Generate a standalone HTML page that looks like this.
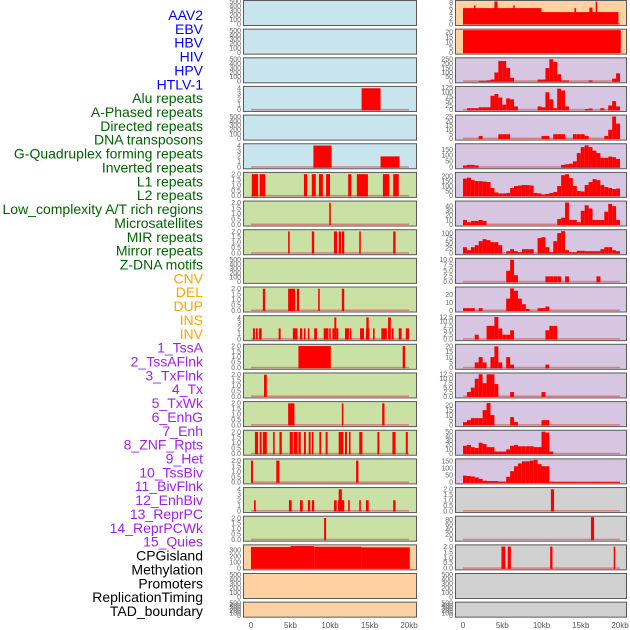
<!DOCTYPE html>
<html><head><meta charset="utf-8">
<style>
html,body{margin:0;padding:0;background:#fff;}
#wrap{position:relative;width:630px;height:630px;overflow:hidden;}
svg text{font-family:"Liberation Sans",sans-serif;}
</style></head>
<body>
<div id="wrap">
<svg id="chart" width="630" height="630" viewBox="0 0 630 630" xmlns="http://www.w3.org/2000/svg"></svg>
</div>
<script>
// ---- labels ----
const trackLabels = ["AAV2","EBV","HBV","HIV","HPV","HTLV-1","Alu repeats","A-Phased repeats","Directed repeats","DNA transposons","G-Quadruplex forming repeats","Inverted repeats","L1 repeats","L2 repeats","Low_complexity A/T rich regions","Microsatellites","MIR repeats","Mirror repeats","Z-DNA motifs","CNV","DEL","DUP","INS","INV","1_TssA","2_TssAFlnk","3_TxFlnk","4_Tx","5_TxWk","6_EnhG","7_Enh","8_ZNF_Rpts","9_Het","10_TssBiv","11_BivFlnk","12_EnhBiv","13_ReprPC","14_ReprPCWk","15_Quies","CPGisland","Methylation","Promoters","ReplicationTiming","TAD_boundary"];
const labelGroups = [6,13,5,15,5];
const groupColors = ["#0000ff","#006400","#ffa500","#a020f0","#000000"];

// ---- x axis ----
const xTickKb = [0,5,10,15,20];
const xTickLabels = ["0","5kb","10kb","15kb","20kb"];

// ---- tick label sets ----
const T500 = ["0","100","200","300","400","500"];
const T4 = ["0","1","2","3","4"];
const T2 = ["0.0","0.5","1.0","1.5","2.0"];
const T300 = ["0","100","200","300"];

// ---- left column segments [startKb, endKb, value] ----
const L4 = [[14.0,16.4,4]];
const L6 = [[7.9,10.2,4],[16.4,18.8,2]];
const L7 = [[0.1,0.9,2],[1.1,1.8,2],[6.7,7.1,2],[7.7,8.2,2],[8.6,9.1,2],[9.5,10.0,2],[12.3,12.7,2],[13.4,14.8,2],[16.7,17.5,2],[18.0,18.7,2]];
const L8 = [[9.9,10.1,2]];
const L9 = [[4.7,4.9,2],[7.7,8.0,2],[10.5,10.9,2],[11.1,11.4,2],[11.5,11.8,2],[13.7,13.9,2],[18.0,18.3,2]];
const L11 = [[1.5,1.8,2],[4.7,5.6,2],[5.8,6.1,2],[8.5,8.7,2],[11.5,11.8,2]];
const L12 = [[0.25,0.5,2],[0.63,0.85,2],[1.0,1.35,2],[3.5,3.75,2],[5.3,5.9,2],[6.2,6.5,2],[6.7,6.9,2],[7.2,7.4,2],[8.0,8.35,2],[9.2,9.8,2],[9.9,10.1,2],[10.3,10.55,2],[10.55,10.8,4],[10.8,11.05,2],[11.9,12.4,2],[12.5,12.7,2],[13.8,14.3,2],[14.55,15.0,2],[14.6,14.9,4],[15.45,15.65,2],[16.5,17.2,2],[17.35,17.7,4],[17.8,18.05,2],[18.7,19.07,2],[19.6,20.0,2]];
const L13 = [[6.0,10.1,2],[19.2,19.5,2]];
const L14 = [[1.65,2.0,2]];
const L15 = [[4.7,5.5,2],[11.5,11.7,2],[16.6,16.9,2]];
const L16 = [[0.5,0.9,2],[1.1,1.35,2],[1.5,2.0,2],[2.8,3.0,2],[3.6,3.9,2],[4.9,5.3,2],[5.4,5.9,2],[6.0,6.3,2],[6.7,6.95,2],[7.3,7.55,2],[7.7,7.9,2],[8.65,8.9,2],[9.45,9.7,2],[11.1,11.7,2],[11.9,12.15,2],[12.4,12.6,2],[13.7,14.1,2],[16.0,16.25,2],[17.9,18.3,2],[19.6,19.85,2]];
const L17 = [[0,0.25,2],[3.2,3.6,2],[13.3,13.6,2]];
const L18 = [[0.38,0.6,2],[4.8,5.15,2],[6.2,6.55,2],[7.2,7.5,2],[7.7,8.0,2],[10.5,10.85,2],[11.0,11.8,2],[11.1,11.5,4],[12.3,12.5,2],[13.7,13.9,2],[14.55,14.9,2],[18.0,18.3,2]];
const L19 = [[9.25,9.5,2]];
const L20 = [[0,5,355],[5,8,372],[8,14,360],[14,20.1,350]];

// ---- right column segments / 0.5kb bins ----
const R1 = [[0,10,6],[10,19.8,4.5],[1.4,1.6,7],[4.0,4.4,8.5],[6.4,6.6,7],[14.2,14.4,6],[16.1,16.5,6.2],[16.9,17.1,8.5]];
const R2 = [[0,20.1,22]];
const R3 = [0,0,0,0,5,5,10,20,100,230, 230,150,40,0,0,0,0,0,0,20, 20,150,250,220,80,10,10,0,0,0, 0,0,10,0,0,0,0,0,30,90];
const R4 = [0,10,10,10,15,15,15,80,90,70, 30,65,60,20,0,0,0,0,0,20, 15,100,60,10,120,110,20,0,0,0, 0,5,8,0,0,10,0,25,50,20];
const R5 = [0,0,0,0,3,0,0,0,0,5, 5,5,0,0,0,0,0,0,0,0, 3,3,0,5,5,5,0,0,5,5, 5,3,0,0,0,0,3,10,25,17];
const R6 = [15,20,20,15,0,0,0,0,0,0, 0,0,0,0,0,0,0,0,0,0, 0,0,0,0,0,20,25,30,50,120, 170,185,170,140,120,80,80,90,85,70];
const R7 = [175,185,160,150,150,145,140,80,35,25, 25,30,80,100,105,110,110,105,30,25, 15,20,30,40,100,210,220,180,100,50, 45,110,140,170,160,110,90,80,70,75];
const R8 = [10,5,8,8,10,8,0,0,0,0, 0,0,0,0,0,0,0,0,0,0, 0,0,0,0,12,15,48,10,10,5, 30,42,35,10,10,10,28,45,40,10];
const R9 = [30,15,30,40,60,70,65,55,55,40, 0,10,20,10,5,20,20,20,0,75, 80,30,5,60,100,110,15,5,5,12, 12,10,10,10,10,20,30,30,15,10];
const R10 = [0,0,0,0,0,0,0,0,0,0, 0,5,10,3,0,0,0,0,0,0, 0,2.5,2.5,2.5,2.5,0,2.5,0,0,0, 0,0,0,0,2.5,0,0,0,0,0];
const R11 = [3,3,3,0,3,0,0,0,0,0, 0,15,28,25,15,8,2,0,0,3, 3,5,0,0,0,0,0,0,0,0, 0,0,0,0,0,0,0,0,0,0];
const R12 = [0,0,0,2.5,0,0,7.5,7.5,12.5,6, 2.5,2.5,5,0,0,0,0,0,0,0, 0,5,7.5,7.5,0,0,0,0,0,0, 0,0,0,0,0,0,0,0,0,0];
const R13 = [0,0,0,5,10,5,0,10,20,5, 0,10,3,0,0,0,0,0,0,0, 0,3,0,0,0,0,0,0,0,0, 0,0,0,0,0,0,0,0,0,0];
const R14 = [0,2.5,5,10,12.5,7.5,12.5,12.5,7,0, 0,0,2.5,0,0,0,0,0,0,0, 2.5,0,0,0,0,0,0,0,0,0, 0,0,0,0,0,0,0,0,0,0];
const R15 = [3,5,7,7,7,15,22,10,0,0, 0,0,8,3,0,0,0,0,0,0, 5,5,0,0,0,0,0,0,0,0, 0,0,0,0,0,0,0,0,0,0];
const R16 = [18,20,15,13,25,22,15,15,5,5, 5,10,18,20,17,17,17,17,15,15, 50,48,5,0,0,0,0,0,0,0, 0,0,0,0,0,0,0,0,0,0];
const R17 = [48,45,42,35,25,12,10,10,10,5, 5,40,80,115,135,150,150,155,160,130, 115,115,5,3,3,3,3,3,3,3, 3,3,3,3,3,3,3,3,3,3];
const R18 = [[11.2,11.6,2]];
const R19 = [[16.3,16.7,90]];
const R20 = [[4.9,5.4,2],[5.7,6.1,2],[11.1,11.4,2],[19.2,19.4,2]];

// ---- panel configs ----
const C = {blue:"#c8e4ec",green:"#c9e1a5",orange:"#ffd0a0",purple:"#d6c6e2",gray:"#d1d1d1"};
const leftPanels = [
 {bg:C.blue,t:T500,max:510,segs:null},{bg:C.blue,t:T500,max:510,segs:null},{bg:C.blue,t:T500,max:510,segs:null},
 {bg:C.blue,t:T4,max:4.15,segs:L4},{bg:C.blue,t:T500,max:510,segs:null},{bg:C.blue,t:T4,max:4.15,segs:L6},
 {bg:C.green,t:T2,max:2.07,segs:L7},{bg:C.green,t:T2,max:2.07,segs:L8},{bg:C.green,t:T2,max:2.07,segs:L9},
 {bg:C.green,t:T500,max:510,segs:null},{bg:C.green,t:T2,max:2.07,segs:L11},{bg:C.green,t:T4,max:4.15,segs:L12},
 {bg:C.green,t:T2,max:2.07,segs:L13},{bg:C.green,t:T2,max:2.07,segs:L14},{bg:C.green,t:T2,max:2.07,segs:L15},
 {bg:C.green,t:T2,max:2.07,segs:L16},{bg:C.green,t:T2,max:2.07,segs:L17},{bg:C.green,t:T4,max:4.15,segs:L18},
 {bg:C.green,t:T2,max:2.07,segs:L19},{bg:C.orange,t:T300,max:375,segs:L20},{bg:C.orange,t:T500,max:510,segs:null},
 {bg:C.orange,t:T500,max:510,segs:null}
];
const rightPanels = [
 {bg:C.orange,t:["0","2","4","6","8"],max:8.5,segs:R1},
 {bg:C.orange,t:["0","5","10","15","20"],max:22,segs:R2},
 {bg:C.purple,t:["0","50","100","150","200","250"],max:255,bins:R3},
 {bg:C.purple,t:["0","25","50","75","100","125"],max:127,bins:R4},
 {bg:C.purple,t:["0","5","10","15","20","25"],max:25.5,bins:R5},
 {bg:C.purple,t:["0","50","100","150"],max:190,bins:R6},
 {bg:C.purple,t:["0","50","100","150","200"],max:228,bins:R7},
 {bg:C.purple,t:["0","10","20","30","40"],max:49,bins:R8},
 {bg:C.purple,t:["0","25","50","75","100"],max:112,bins:R9},
 {bg:C.purple,t:["0.0","2.5","5.0","7.5","10.0"],max:10.2,bins:R10},
 {bg:C.purple,t:["0","10","20"],max:28.5,bins:R11},
 {bg:C.purple,t:["0.0","2.5","5.0","7.5","10.0","12.5"],max:12.7,bins:R12},
 {bg:C.purple,t:["0","5","10","15","20"],max:21,bins:R13},
 {bg:C.purple,t:["0.0","2.5","5.0","7.5","10.0","12.5"],max:12.7,bins:R14},
 {bg:C.purple,t:["0","5","10","15","20"],max:22.5,bins:R15},
 {bg:C.purple,t:["0","10","20","30","40","50"],max:51,bins:R16},
 {bg:C.purple,t:["0","50","100","150"],max:160,bins:R17},
 {bg:C.gray,t:T2,max:2.07,segs:R18},
 {bg:C.gray,t:["0","20","40","60","80"],max:90,segs:R19},
 {bg:C.gray,t:T2,max:2.07,segs:R20},
 {bg:C.gray,t:T500,max:510,segs:null},
 {bg:C.gray,t:T500,max:510,segs:null}
];

const svg = document.getElementById('chart');
const NS = "http://www.w3.org/2000/svg";
function mk(tag, attrs){const e=document.createElementNS(NS,tag);for(const k in attrs)e.setAttribute(k,attrs[k]);svg.appendChild(e);return e;}

const PITCH = 28.65, PH = 25;
const cols = [
 {x0:243, x1:416, kb0:251, pxPerKb:7.9, panels:leftPanels, side:'left'},
 {x0:455, x1:626, kb0:463, pxPerKb:7.85, panels:rightPanels, side:'right'}
];

// labels
let li = 0;
labelGroups.forEach((n, g) => {
  for (let k = 0; k < n; k++) {
    const t = mk('text', {x:203, y:(15 + li*13.86 + 5).toFixed(1), 'text-anchor':'end', 'font-size':'14', fill:groupColors[g]});
    t.textContent = trackLabels[li];
    
    
    li++;
  }
});

cols.forEach(col => {
  const xs = kb => col.kb0 + kb*col.pxPerKb;
  col.panels.forEach((p, r) => {
    const top = r*PITCH + 0.5;
    const h = (r === 21) ? 15 : PH;
    const bottom = top + h;
    const ys = v => bottom - 1.5 - v/p.max*(h-2.5);
    const bg = mk('rect', {x:col.x0+0.5, y:top, width:col.x1-col.x0, height:h, fill:p.bg, stroke:'#5a5a5a', 'stroke-width':1});
    
    
    p.t.forEach(lbl => {
      const tt = mk('text', {x:col.x0-2, y:(ys(parseFloat(lbl))+2.3).toFixed(1), 'text-anchor':'end', 'font-size':'7', fill:'#666'});
      tt.textContent = lbl;
      
      
    });
    let segs = p.segs;
    if (p.bins) segs = p.bins.map((v,i) => [i*0.5, i*0.5+0.5, v]).filter(s => s[2] > 0);
    if (segs) {
      const base = mk('rect', {x:xs(0), y:bottom-2.5, width:xs(20)-xs(0), height:1.5, fill:'#d96a6a', opacity:0.8});
      
      
      segs.forEach(s => {
        const y = ys(s[2]);
        const b = mk('rect', {x:xs(s[0]).toFixed(2), y:y.toFixed(2), width:Math.max(1.2, xs(s[1])-xs(s[0])).toFixed(2), height:(bottom-1-y).toFixed(2), fill:'#ff0000'});
        
        
      });
    }
  });
  xTickKb.forEach((kb, i) => {
    const t = mk('text', {x:xs(kb).toFixed(1), y:628, 'text-anchor':'middle', 'font-size':'8', fill:'#555'});
    t.textContent = xTickLabels[i];
    
    
  });
});
</script>
</body></html>
